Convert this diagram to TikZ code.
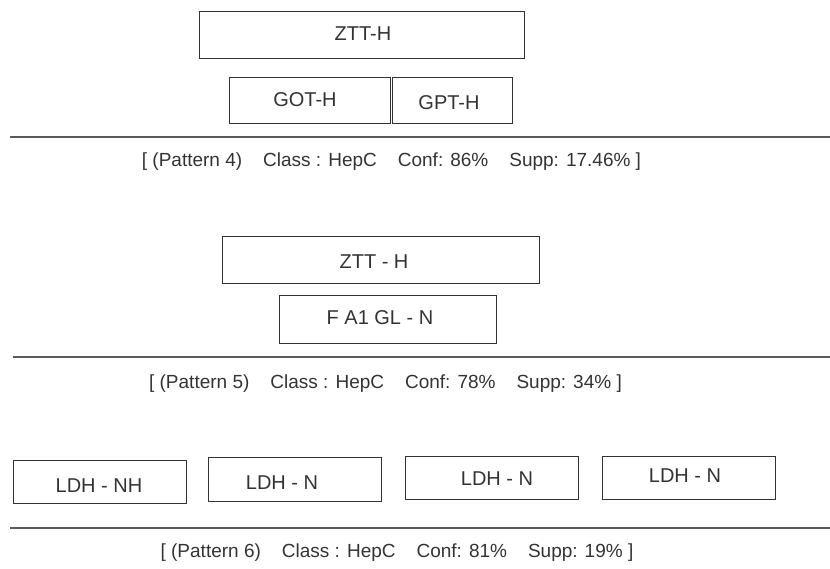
\documentclass[tikz,border=0pt]{standalone}
\usepackage{fontspec}
\setmainfont{Liberation Sans}
\usetikzlibrary{calc}
\definecolor{ink}{RGB}{51,51,51}
\definecolor{rulecol}{RGB}{90,90,90}
\tikzset{
  box/.style={draw=ink, line width=0.9pt, inner sep=0pt},
  lbl/.style={text=ink, font=\fontsize{20}{22}\selectfont, inner sep=0pt, anchor=center},
  captext/.style={text=ink, font=\fontsize{19}{22}\selectfont, inner sep=0pt, anchor=base},
  sepline/.style={draw=rulecol, line width=1.1pt}
}
\newcommand{\gap}{\hspace{21pt}}
\begin{document}
\begin{tikzpicture}[x=1pt,y=-1pt]
\useasboundingbox (0,0) rectangle (830,569);
% Pattern 4
\node[box, minimum width=325, minimum height=47] (z1) at (361.5,34.5) {};
\node[lbl] (z1t) at (363,34) {ZTT-H};
\node[box, minimum width=161, minimum height=46] (got) at (309.5,100) {};
\node[lbl] (gott) at (305,100) {GOT-H};
\node[box, minimum width=120, minimum height=46] (gpt) at (452,100) {};
\node[lbl] (gptt) at (449,103) {GPT-H};
\coordinate (l1a) at (10,137);
\coordinate (l1b) at (830,137);
\draw[sepline] (l1a) -- (l1b);
\node[captext] (c1) at (391.5,166.5) {[ (Pattern 4)\gap Class : HepC\gap Conf: 86\%\gap Supp: 17.46\% ]};
% Pattern 5
\node[box, minimum width=317, minimum height=47] (z2) at (380.5,259.5) {};
\node[lbl] (z2t) at (374,261.5) {ZTT - H};
\node[box, minimum width=217, minimum height=48] (fa) at (387.5,319) {};
\node[lbl] (fat) at (380,318) {F A1 GL - N};
\coordinate (l2a) at (13,357);
\coordinate (l2b) at (830,357);
\draw[sepline] (l2a) -- (l2b);
\node[captext] (c2) at (385.5,388) {[ (Pattern 5)\gap Class : HepC\gap Conf: 78\%\gap Supp: 34\% ]};
% Pattern 6
\node[box, minimum width=173, minimum height=43] (b1) at (99.5,481.5) {};
\node[lbl] (b1t) at (99,485.5) {LDH - NH};
\node[box, minimum width=173, minimum height=44] (b2) at (294.5,479) {};
\node[lbl] (b2t) at (282,483) {LDH - N};
\node[box, minimum width=173, minimum height=43] (b3) at (491.5,477.5) {};
\node[lbl] (b3t) at (497,479) {LDH - N};
\node[box, minimum width=173, minimum height=43] (b4) at (688.5,477.5) {};
\node[lbl] (b4t) at (685,475.5) {LDH - N};
\coordinate (l3a) at (10,528);
\coordinate (l3b) at (830,528);
\draw[sepline] (l3a) -- (l3b);
\node[captext] (c3) at (397,557) {[ (Pattern 6)\gap Class : HepC\gap Conf: 81\%\gap Supp: 19\% ]};
\end{tikzpicture}
\end{document}
